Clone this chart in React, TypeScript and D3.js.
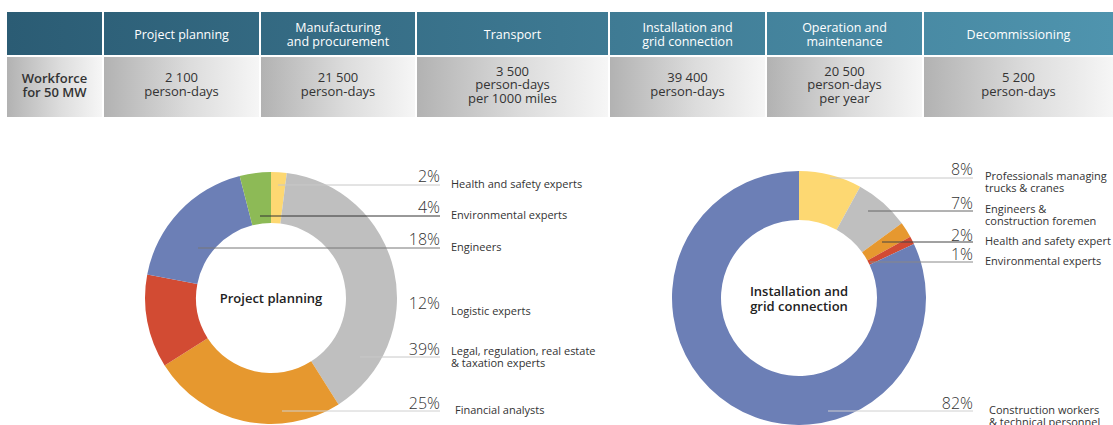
import React from "react";
import * as d3 from "d3";

// header table
const stages = [
  ["Project planning"],
  ["Manufacturing", "and procurement"],
  ["Transport"],
  ["Installation and", "grid connection"],
  ["Operation and", "maintenance"],
  ["Decommissioning"],
];
const workforce = [
  ["2 100", "person-days"],
  ["21 500", "person-days"],
  ["3 500", "person-days", "per 1000 miles"],
  ["39 400", "person-days"],
  ["20 500", "person-days", "per year"],
  ["5 200", "person-days"],
];
const rowLabel = ["Workforce", "for 50 MW"];

// donut: project planning
const planningLabels = [
  ["Health and safety experts"],
  ["Environmental experts"],
  ["Engineers"],
  ["Logistic experts"],
  ["Legal, regulation, real estate", "& taxation experts"],
  ["Financial analysts"],
];
const planningValues = [2, 4, 18, 12, 39, 25];
// clockwise order from 12 o'clock
const planningOrder = [0, 4, 5, 3, 2, 1];

// donut: installation
const installLabels = [
  ["Professionals managing", "trucks & cranes"],
  ["Engineers &", "construction foremen"],
  ["Health and safety expert"],
  ["Environmental experts"],
  ["Construction workers", "& technical personnel"],
];
const installValues = [8, 7, 2, 1, 82];
const installOrder = [0, 1, 2, 3, 4];

// colours in label order
const planningColors = ["#fdd872", "#8dba56", "#6c7fb6", "#d24b33", "#bfbfbf", "#e6982f"];
const installColors = ["#fdd872", "#bfbfbf", "#e6982f", "#d24b33", "#6c7fb6"];

// column edges of the table
const colEdges = [[7, 102], [104, 259], [261, 415], [417, 608], [610, 765], [767, 922], [924, 1113]];

const FONT = "'Open Sans', 'Noto Sans', sans-serif";

type Callout = { pctY: number; labelY: number; lineY: number; lineX: number; lineColor: string | null; labelDx?: number };

const planningCallouts: Callout[] = [
  { pctY: 182, labelY: 188, lineY: 185, lineX: 278, lineColor: "#c8c8c8" },
  { pctY: 213, labelY: 219, lineY: 216, lineX: 260, lineColor: "#333" },
  { pctY: 245, labelY: 251, lineY: 248, lineX: 198, lineColor: "#777" },
  { pctY: 309, labelY: 315, lineY: 0, lineX: 0, lineColor: null },
  { pctY: 355, labelY: 355, lineY: 357, lineX: 360, lineColor: "#c8c8c8" },
  { pctY: 409, labelY: 414, lineY: 411, lineX: 282, lineColor: "#d0d0d0", labelDx: 4 },
];
const installCallouts: Callout[] = [
  { pctY: 175, labelY: 180, lineY: 178, lineX: 830, lineColor: "#c8c8c8" },
  { pctY: 209, labelY: 213, lineY: 211, lineX: 868, lineColor: "#666" },
  { pctY: 241, labelY: 245, lineY: 242, lineX: 882, lineColor: "#444" },
  { pctY: 260, labelY: 265, lineY: 262, lineX: 870, lineColor: "#888" },
  { pctY: 409, labelY: 414, lineY: 411, lineX: 828, lineColor: "#d0d0d0", labelDx: 4 },
];

function Donut(props: {
  cx: number; cy: number; r0: number; r1: number;
  values: number[]; order: number[]; colors: string[]; title: string[];
  labels: string[][]; callouts: Callout[]; pctX: number; labelX: number;
}) {
  const { cx, cy, r0, r1, values, order, colors, title, labels, callouts, pctX, labelX } = props;
  const arcs = d3.pie<number>().sort(null).value((i) => values[i])(order);
  const arc = d3.arc<d3.PieArcDatum<number>>().innerRadius(r0).outerRadius(r1);
  return (
    <g>
      <g transform={`translate(${cx},${cy})`}>
        {arcs.map((a, k) => (
          <path key={k} d={arc(a) || ""} fill={colors[a.data]} />
        ))}
        {title.map((t, k) => (
          <text key={k} x={0} y={(k - (title.length - 1) / 2) * 15 + 5} textAnchor="middle"
            fontFamily={FONT} fontWeight={600} fontSize={13} fill="#222">{t}</text>
        ))}
      </g>
      {labels.map((lines, i) => {
        const c = callouts[i];
        return (
          <g key={i}>
            {c.lineColor && (
              <line x1={c.lineX} x2={pctX} y1={c.lineY} y2={c.lineY} stroke={c.lineColor} strokeWidth={1} />
            )}
            <text x={pctX} y={c.pctY} textAnchor="end" fontFamily={FONT} fontWeight={300}
              fontSize={16} fill="#333">{values[i]}%</text>
            {lines.map((l, k) => (
              <text key={k} x={labelX + (c.labelDx || 0)} y={c.labelY + k * 12} fontFamily={FONT}
                fontSize={11} fill="#333">{l}</text>
            ))}
          </g>
        );
      })}
    </g>
  );
}

export default function App() {
  return (
    <svg width={1113} height={425} style={{ position: "absolute", left: 0, top: 0, background: "#fff" }}>
      <defs>
        <linearGradient id="hdr" gradientUnits="userSpaceOnUse" x1={7} x2={1113} y1={0} y2={0}>
          <stop offset="0" stopColor="#2b5c74" />
          <stop offset="1" stopColor="#4f94ae" />
        </linearGradient>
        <linearGradient id="cell" x1="0" x2="1" y1="0" y2="0">
          <stop offset="0" stopColor="#b2b2b2" />
          <stop offset="0.55" stopColor="#dcdcdc" />
          <stop offset="1" stopColor="#f6f6f6" />
        </linearGradient>
      </defs>
      {colEdges.map(([x0, x1], i) => {
        const mid = (x0 + x1) / 2;
        const head = i === 0 ? [] : stages[i - 1];
        const body = i === 0 ? rowLabel : workforce[i - 1];
        return (
          <g key={i}>
            <rect x={x0} y={12} width={x1 - x0} height={43} fill="url(#hdr)" />
            <rect x={x0} y={57} width={x1 - x0} height={60} fill="url(#cell)" />
            {head.map((t, k) => (
              <text key={k} x={mid} y={38.5 + (k - (head.length - 1) / 2) * 14} textAnchor="middle"
                fontFamily={FONT} fontSize={12.5} fill="#fff">{t}</text>
            ))}
            {body.map((t, k) => (
              <text key={k} x={mid} y={(i === 0 ? 90 : 89) + (k - (body.length - 1) / 2) * 13.5}
                textAnchor="middle" fontFamily={FONT} fontSize={13}
                fontWeight={i === 0 ? 600 : 400} fill="#333">{t}</text>
            ))}
          </g>
        );
      })}
      <Donut cx={271} cy={298} r0={75} r1={126} values={planningValues} order={planningOrder}
        colors={planningColors} title={["Project planning"]} labels={planningLabels}
        callouts={planningCallouts} pctX={440} labelX={451} />
      <Donut cx={799} cy={298} r0={78} r1={127} values={installValues} order={installOrder}
        colors={installColors} title={["Installation and", "grid connection"]} labels={installLabels}
        callouts={installCallouts} pctX={973} labelX={985} />
    </svg>
  );
}
